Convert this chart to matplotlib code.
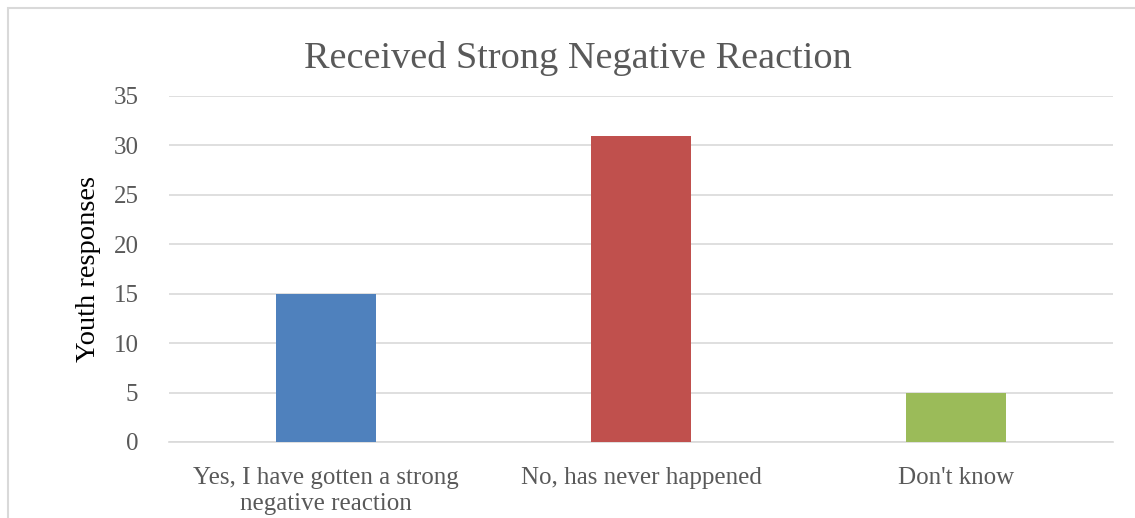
import matplotlib.pyplot as plt
from matplotlib.patches import Rectangle

categories = ["Yes, I have gotten a strong\nnegative reaction", "No, has never happened", "Don't know"]
responses = [15, 31, 5]
bar_colors = ["#4F81BD", "#C0504D", "#9BBB59"]
yticks = [0, 5, 10, 15, 20, 25, 30, 35]

text_color = "#595959"
grid_color = "#D9D9D9"

plt.rcParams["font.family"] = ["Liberation Serif", "DejaVu Serif"]

fig = plt.figure(figsize=(11.35, 5.18), dpi=100)
ax = fig.add_axes([169 / 1135, 1 - 442 / 518, (1113 - 169) / 1135, (442 - 96) / 518])

x = range(len(categories))
ax.bar(x, responses, width=0.318, color=bar_colors, zorder=3)

ax.set_xlim(-0.5, 2.5)
ax.set_ylim(0, 35)
ax.set_yticks(yticks)
ax.set_xticks(list(x))
ax.set_xticklabels(categories, fontsize=18, color=text_color, linespacing=1.25)
ax.tick_params(axis="y", labelsize=18, colors=text_color, length=0, pad=22)
ax.tick_params(axis="x", length=0, pad=18)
ax.yaxis.grid(True, color=grid_color, linewidth=1.2, zorder=0)
for side in ["top", "right", "left"]:
    ax.spines[side].set_visible(False)
ax.spines["bottom"].set_color(grid_color)
ax.spines["bottom"].set_linewidth(1.2)

ax.set_ylabel("Youth responses", fontsize=20.5, color="black", labelpad=9)
fig.text(578 / 1135, 1 - 59 / 518, "Received Strong Negative Reaction",
         fontsize=27.5, color=text_color, ha="center", va="center")

# light frame around the chart area
fig.patches.append(Rectangle((8 / 1135, -0.1), 1.2, 1 - 8 / 518 + 0.1,
                             transform=fig.transFigure, fill=False,
                             edgecolor=grid_color, linewidth=1.5))

fig.savefig("out.png", dpi=100)
